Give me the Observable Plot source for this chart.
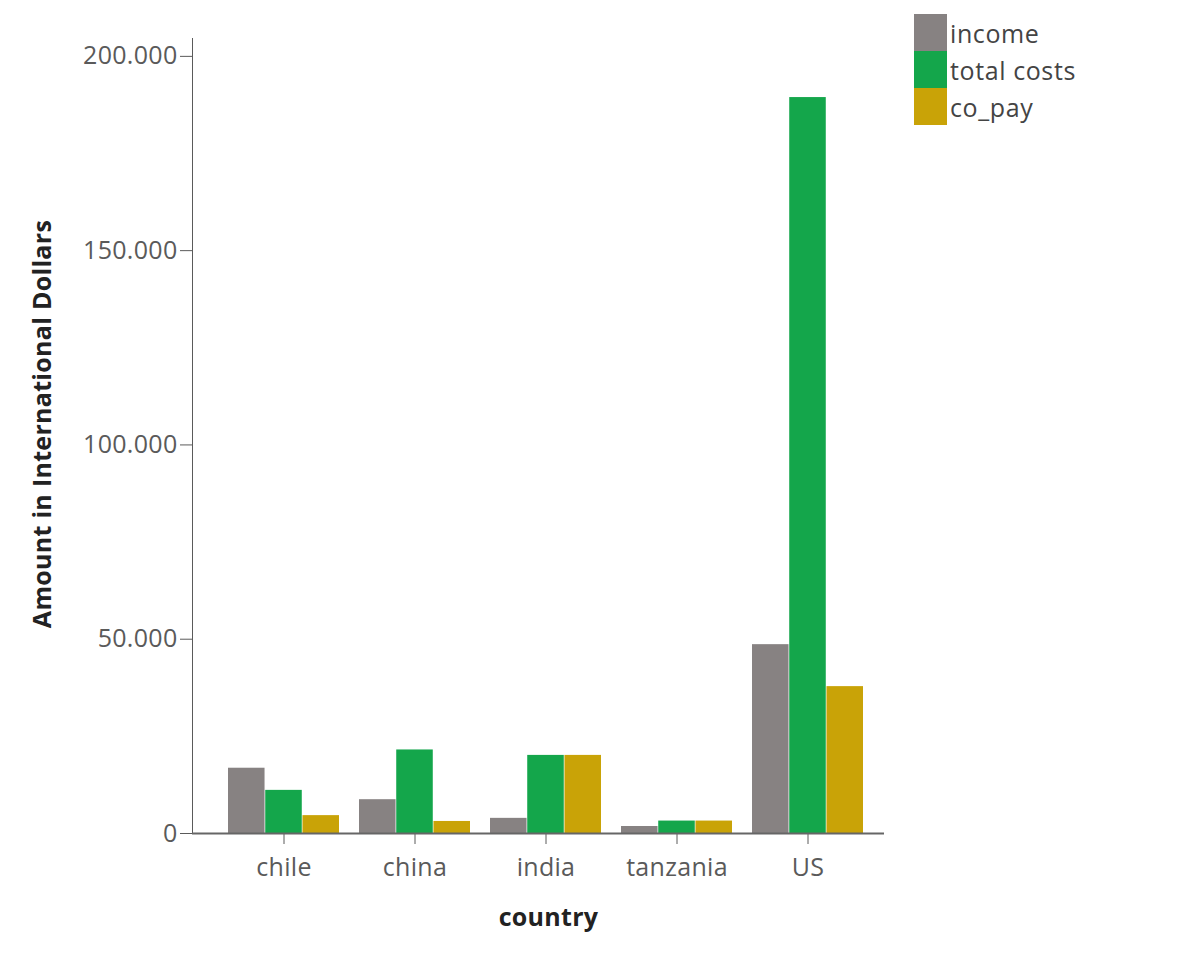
<!DOCTYPE html>
<html>
<head>
<meta charset="utf-8">
<script src="https://cdn.jsdelivr.net/npm/d3@7"></script>
<script src="https://cdn.jsdelivr.net/npm/@observablehq/plot@0.6"></script>
<style>
  html, body { margin: 0; padding: 0; background: #fff; }
  #wrap { position: relative; width: 1200px; height: 963px; }
  #legend { position: absolute; left: 914px; top: 14px; font-family: "Open Sans", sans-serif; font-size: 25px; color: #444; letter-spacing: 0.6px; }
  .item { display: flex; align-items: center; height: 37px; }
  .sw { width: 33px; height: 37px; margin-right: 3px; }
</style>
</head>
<body>
<div id="wrap"><div id="legend"></div></div>
<script>
const countries = ["chile", "china", "india", "tanzania", "US"];
const seriesNames = ["income", "total costs", "co_pay"];
const income = [16800, 8700, 3900, 1800, 48600];
const totalCosts = [11100, 21500, 20100, 3200, 189400];
const coPay = [4600, 3100, 20100, 3200, 37800];
const seriesColors = ["#878282", "#14a64b", "#c9a307"];
const yTicks = [0, 50000, 100000, 150000, 200000];

const W = 1200, H = 963;
const mL = 192, mR = 316, mT = 38, mB = 130;
const r0 = 217.3, r1 = 874.3, pad = 0.15;
const step = (r1 - r0) / countries.length;
const bw = step * (1 - pad);
const third = bw / 3;

const fmt = d3.formatLocale({decimal: ",", thousands: ".", grouping: [3], currency: ["", ""]}).format(",d");

const values = [income, totalCosts, coPay];
const bars = values.map((vals, s) => Plot.barY(
  countries.map((c, i) => ({country: c, value: vals[i], series: seriesNames[s]})),
  {x: "country", y: "value", fill: seriesColors[s],
   insetLeft: third * s, insetRight: third * (2 - s)}
));

const chart = Plot.plot({
  width: W, height: H,
  marginLeft: mL, marginRight: mR, marginTop: mT, marginBottom: mB,
  style: {fontFamily: "'Open Sans', sans-serif", fontSize: "25px", color: "#5a5a5a", background: "#fff", letterSpacing: "0.3px"},
  x: {domain: countries, range: [r0, r1], paddingInner: pad, paddingOuter: pad / 2,
      tickSize: 11, tickPadding: 14, label: null},
  y: {domain: [0, 204600], ticks: yTicks, tickFormat: fmt, tickSize: 12, tickPadding: 3,
      label: null, line: true},
  marks: [
    ...bars,
    Plot.ruleY([0], {stroke: "#666", strokeWidth: 2}),
    Plot.text(["Amount in International Dollars"], {frameAnchor: "left", textAnchor: "middle", rotate: -90,
      dx: -150, dy: -12, fontWeight: "bold", fontSize: 25, fill: "#222"}),
    Plot.text(["country"], {frameAnchor: "bottom", dy: 92, dx: 10, fontWeight: "bold", fontSize: 25, fill: "#222"})
  ]
});
document.getElementById("wrap").prepend(chart);

const legend = document.getElementById("legend");
seriesNames.forEach((name, i) => {
  const item = document.createElement("div");
  item.className = "item";
  const sw = document.createElement("div");
  sw.className = "sw";
  sw.style.background = seriesColors[i];
  const lab = document.createElement("span");
  lab.textContent = name;
  item.append(sw, lab);
  legend.append(item);
});
</script>
</body>
</html>
